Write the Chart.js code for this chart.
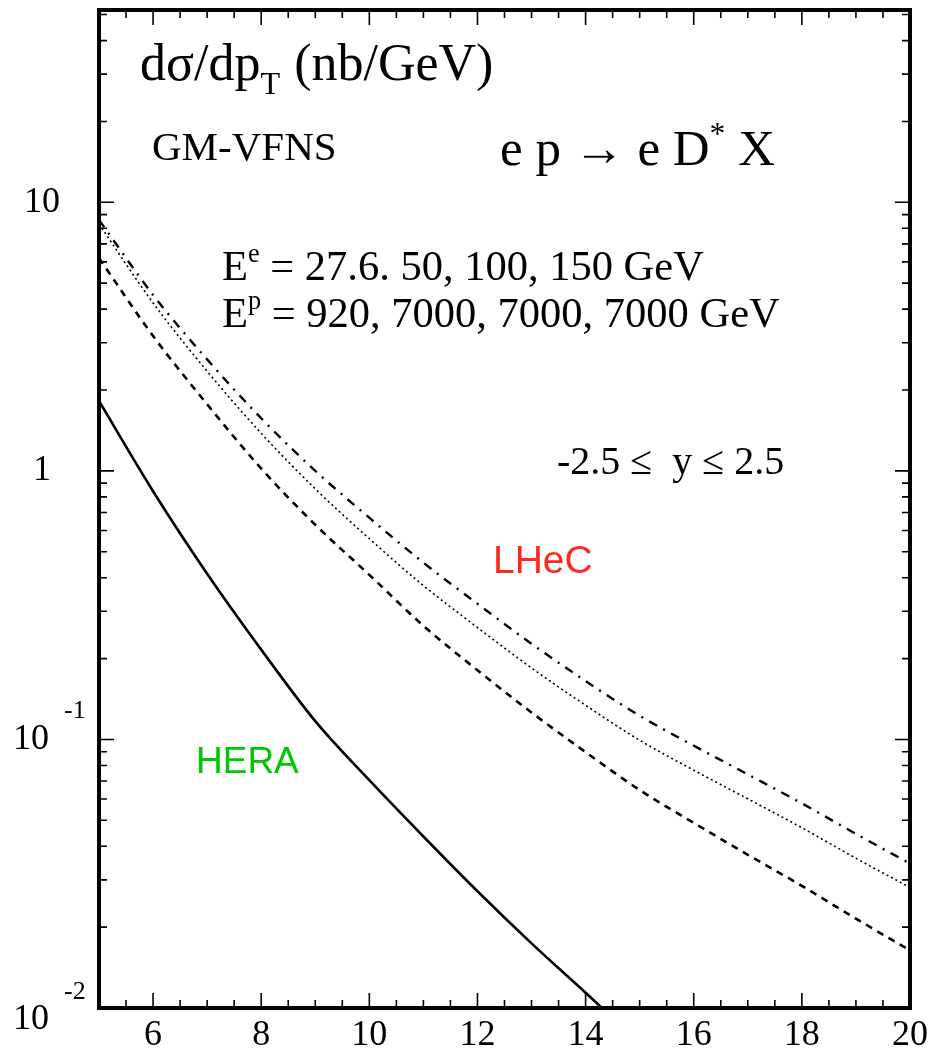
<!DOCTYPE html>
<html>
<head>
<meta charset="utf-8">
<script src="https://cdn.jsdelivr.net/npm/chart.js@4.4.1/dist/chart.umd.min.js"></script>
<style>
  html, body { margin: 0; padding: 0; background: #ffffff; }
  #wrap { width: 930px; height: 1051px; position: relative; }
</style>
</head>
<body>
<div id="wrap"><canvas id="c" width="930" height="1051"></canvas></div>
<script>
// D* transverse-momentum spectra, dσ/dpT in nb/GeV
const ptHera = [5, 6, 7, 8, 9, 10, 11, 12, 13, 14, 14.6];
const sigmaHera = [1.82, 0.84, 0.414, 0.216, 0.117, 0.0705, 0.0435, 0.0272, 0.0174, 0.0114, 0.0088];

const ptLhec = [5, 6, 7, 8, 9, 10, 11, 12, 13, 14, 15, 16, 17, 18, 19, 20];
const sigmaLhec50  = [6.2, 3.18, 1.77, 1.02, 0.63, 0.41, 0.265, 0.181, 0.126, 0.0897, 0.0648, 0.0489, 0.0372, 0.0285, 0.0215, 0.0164];
const sigmaLhec100 = [8.3, 4.22, 2.35, 1.38, 0.857, 0.559, 0.374, 0.261, 0.1845, 0.134, 0.0993, 0.0768, 0.0601, 0.0469, 0.0361, 0.0281];
const sigmaLhec150 = [8.6, 4.52, 2.60, 1.57, 1.00, 0.669, 0.455, 0.32, 0.227, 0.165, 0.1225, 0.0948, 0.0741, 0.0578, 0.0445, 0.0345];

// axis ticks and labels
const xMin = 5, xMax = 20;
const yMin = 0.01, yMax = 52;
const xMajorTicks = [6, 8, 10, 12, 14, 16, 18, 20];
const xTickLabels = ['6', '8', '10', '12', '14', '16', '18', '20'];
const yDecadeTicks = [0.01, 0.1, 1, 10];
const yTickBase = ['10', '10', '1', '10'];
const yTickExp  = ['-2', '-1', '', ''];

const SERIF = '"Liberation Serif", "DejaVu Serif", serif';
const SANS = '"Liberation Sans", Arial, sans-serif';

function toPoints(xs, ys) { return xs.map((x, i) => ({ x: x, y: ys[i] })); }

// text with super/subscript runs
function drawRich(ctx, parts, x, y, size, family, color) {
  let cx = x;
  ctx.fillStyle = color || '#000';
  ctx.textBaseline = 'alphabetic';
  ctx.textAlign = 'left';
  for (const p of parts) {
    let s = size, dy = 0;
    if (p.s === 'sup') { s = size * 0.62; dy = -size * 0.42; }
    if (p.s === 'sub') { s = size * 0.62; dy = size * 0.26; }
    ctx.font = s + 'px ' + family;
    ctx.fillText(p.t, cx, y + dy);
    cx += ctx.measureText(p.t).width + (p.gap || 0);
  }
  return cx;
}

const framePlugin = {
  id: 'frame',
  afterDatasetsDraw(chart) {
    const ctx = chart.ctx;
    const xs = chart.scales.x, ys = chart.scales.y;
    const a = chart.chartArea;
    ctx.save();
    ctx.strokeStyle = '#000';
    ctx.lineCap = 'butt';

    // x ticks: bottom and top, pointing inward
    ctx.lineWidth = 1.6;
    for (let v = xMin + 0.5; v < xMax; v += 0.5) {
      const px = xs.getPixelForValue(v);
      const major = xMajorTicks.includes(v);
      const len = major ? 15 : 8;
      ctx.beginPath();
      ctx.moveTo(px, a.bottom); ctx.lineTo(px, a.bottom - len);
      ctx.moveTo(px, a.top); ctx.lineTo(px, a.top + len);
      ctx.stroke();
    }
    // y ticks: left and right, decades plus 2..9 minors
    for (let e = -2; e <= 1; e++) {
      for (let m = 1; m <= 9; m++) {
        const v = m * Math.pow(10, e);
        if (v < yMin || v > yMax) continue;
        const py = ys.getPixelForValue(v);
        const len = m === 1 ? 15 : 8;
        ctx.beginPath();
        ctx.moveTo(a.left, py); ctx.lineTo(a.left + len, py);
        ctx.moveTo(a.right, py); ctx.lineTo(a.right - len, py);
        ctx.stroke();
      }
    }

    // frame
    ctx.lineWidth = 4;
    ctx.strokeRect(a.left, a.top, a.right - a.left, a.bottom - a.top);

    // x tick labels
    ctx.fillStyle = '#000';
    ctx.font = '36px ' + SERIF;
    ctx.textAlign = 'center';
    ctx.textBaseline = 'alphabetic';
    xMajorTicks.forEach((v, i) => {
      ctx.fillText(xTickLabels[i], xs.getPixelForValue(v), a.bottom + 37);
    });

    // y tick labels (power-of-ten notation)
    yDecadeTicks.forEach((v, i) => {
      let py = ys.getPixelForValue(v);
      if (v === yMin) py += 12;
      ctx.font = '36px ' + SERIF;
      ctx.textBaseline = 'middle';
      if (yTickExp[i]) {
        ctx.textAlign = 'left';
        ctx.fillText(yTickBase[i], 13, py);
        ctx.font = '26px ' + SERIF;
        ctx.fillText(yTickExp[i], 64, py - 28);
      } else {
        ctx.textAlign = 'center';
        ctx.fillText(yTickBase[i], 42, py);
      }
    });

    // annotations
    drawRich(ctx, [{ t: 'dσ/dp' }, { t: 'T', s: 'sub', gap: 14 }, { t: '(nb/GeV)' }], 140, 80, 52, SERIF);
    drawRich(ctx, [{ t: 'GM-VFNS' }], 152, 160, 41, SERIF);
    drawRich(ctx, [{ t: 'e p → e D' }, { t: '*', s: 'sup' }, { t: ' X' }], 500, 165, 51, SERIF);
    drawRich(ctx, [{ t: 'E' }, { t: 'e', s: 'sup' }, { t: ' = 27.6. 50, 100, 150 GeV' }], 222, 280, 42.5, SERIF);
    drawRich(ctx, [{ t: 'E' }, { t: 'p', s: 'sup' }, { t: ' = 920, 7000, 7000, 7000 GeV' }], 222, 327, 42.5, SERIF);
    drawRich(ctx, [{ t: '-2.5 ≤  y ≤ 2.5' }], 557, 474, 40, SERIF);
    drawRich(ctx, [{ t: 'LHeC' }], 493, 573, 39, SANS, '#ff2a1f');
    drawRich(ctx, [{ t: 'HERA' }], 196, 773, 37, SANS, '#00c800');
    ctx.restore();
  }
};

const lineBase = {
  pointRadius: 0,
  fill: false,
  cubicInterpolationMode: 'monotone',
  borderColor: '#000'
};

new Chart(document.getElementById('c'), {
  type: 'line',
  data: {
    datasets: [
      Object.assign({}, lineBase, { label: 'HERA 27.6 x 920 GeV', data: toPoints(ptHera, sigmaHera), borderWidth: 2.6 }),
      Object.assign({}, lineBase, { label: 'LHeC 50 x 7000 GeV', data: toPoints(ptLhec, sigmaLhec50), borderWidth: 2.6, borderDash: [7, 6] }),
      Object.assign({}, lineBase, { label: 'LHeC 100 x 7000 GeV', data: toPoints(ptLhec, sigmaLhec100), borderWidth: 1.6, borderDash: [2, 3] }),
      Object.assign({}, lineBase, { label: 'LHeC 150 x 7000 GeV', data: toPoints(ptLhec, sigmaLhec150), borderWidth: 2.4, borderDash: [9, 7, 2, 7] })
    ]
  },
  options: {
    responsive: false,
    animation: false,
    events: [],
    layout: { padding: { left: 99, right: 20, top: 10, bottom: 43 } },
    scales: {
      x: { type: 'linear', min: xMin, max: xMax, display: false },
      y: { type: 'logarithmic', min: yMin, max: yMax, display: false }
    },
    plugins: { legend: { display: false }, tooltip: { enabled: false } }
  },
  plugins: [framePlugin]
});
</script>
</body>
</html>
